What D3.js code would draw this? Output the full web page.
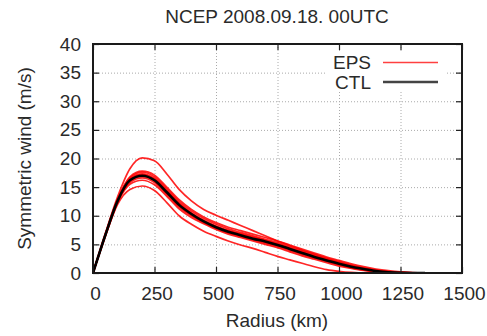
<!DOCTYPE html>
<html>
<head>
<meta charset="utf-8">
<script src="https://cdn.jsdelivr.net/npm/d3@7"></script>
<style>
  body { margin: 0; background: #fff; }
  text { font-family: "Liberation Sans", Arial, sans-serif; fill: #2a2a2a; }
</style>
</head>
<body>
<div id="chart"></div>
<script>
// radius (km) where each profile is sampled
const radius = [0, 50, 100, 150, 200, 250, 300, 350, 400, 450, 500, 550, 600, 650, 700,
  750, 800, 850, 900, 950, 1000, 1050, 1100, 1150, 1200, 1250, 1300, 1350];

// control run
const ctl = [0, 6.6, 12.6, 16.2, 17.0, 16.2, 14.1, 11.9, 10.3, 9.0, 8.0, 7.2, 6.6, 6.0, 5.5,
  4.9, 4.2, 3.5, 2.8, 2.2, 1.6, 1.1, 0.7, 0.35, 0.12, 0.02, 0, 0];

// ensemble members
const eps = [
  [0, 6.9, 13.3, 18.2, 20.1, 19.6, 17.3, 14.6, 12.6, 11.1, 10.1, 9.2, 8.3, 7.4, 6.5,
    5.6, 4.8, 4.0, 3.3, 2.6, 2.0, 1.4, 0.9, 0.5, 0.25, 0.1, 0.02, 0],
  [0, 6.4, 12.0, 14.6, 15.2, 14.4, 12.3, 10.0, 8.5, 7.3, 6.4, 5.6, 4.9, 4.3, 3.6,
    2.9, 2.3, 1.7, 1.1, 0.6, 0.3, 0.1, 0, 0, 0, 0, 0, 0],
  [0, 6.7, 12.8, 16.6, 17.6, 16.8, 14.7, 12.5, 10.8, 9.5, 8.5, 7.7, 7.1, 6.5, 5.9,
    5.3, 4.6, 3.9, 3.2, 2.5, 1.9, 1.3, 0.8, 0.45, 0.2, 0.08, 0.02, 0],
  [0, 6.5, 12.4, 15.8, 16.6, 15.8, 13.7, 11.5, 10.0, 8.8, 7.8, 7.0, 6.4, 5.8, 5.2,
    4.6, 3.9, 3.2, 2.6, 2.0, 1.4, 0.9, 0.5, 0.25, 0.08, 0, 0, 0],
  [0, 6.6, 12.7, 16.4, 17.3, 16.5, 14.4, 12.2, 10.5, 9.2, 8.2, 7.4, 6.8, 6.2, 5.7,
    5.1, 4.4, 3.7, 3.0, 2.4, 1.8, 1.2, 0.8, 0.45, 0.2, 0.06, 0, 0],
  [0, 6.5, 12.3, 15.5, 16.2, 15.4, 13.4, 11.2, 9.7, 8.6, 7.6, 6.8, 6.2, 5.6, 5.0,
    4.4, 3.7, 3.0, 2.4, 1.8, 1.2, 0.8, 0.45, 0.2, 0.05, 0, 0, 0],
  [0, 6.7, 12.9, 16.8, 17.8, 17.1, 15.0, 12.8, 11.1, 9.8, 8.8, 8.0, 7.4, 6.8, 6.2,
    5.6, 4.9, 4.2, 3.5, 2.8, 2.2, 1.6, 1.1, 0.7, 0.4, 0.18, 0.06, 0],
  [0, 6.6, 12.5, 16.0, 16.9, 16.1, 13.9, 11.7, 10.1, 8.9, 7.9, 7.1, 6.5, 5.9, 5.4,
    4.8, 4.1, 3.4, 2.7, 2.1, 1.5, 1.0, 0.6, 0.3, 0.1, 0.02, 0, 0],
  [0, 6.6, 12.6, 16.3, 17.2, 16.4, 14.3, 12.1, 10.4, 9.1, 8.1, 7.4, 6.9, 6.3, 5.7,
    5.0, 4.3, 3.6, 2.9, 2.3, 1.7, 1.2, 0.75, 0.4, 0.15, 0.05, 0, 0]
];

const xTicks = [0, 250, 500, 750, 1000, 1250, 1500];
const yTicks = [0, 5, 10, 15, 20, 25, 30, 35, 40];

const title = 'NCEP 2008.09.18. 00UTC';
const xLabel = 'Radius (km)';
const yLabel = 'Symmetric wind (m/s)';
const legendNames = ['EPS', 'CTL'];

const width = 487, height = 336;
const margin = {top: 44, right: 25, bottom: 63, left: 93};
const fontSize = 19;

const svg = d3.select('#chart')
  .append('svg')
  .attr('width', width)
  .attr('height', height);

const x = d3.scaleLinear()
  .domain([0, 1500])
  .range([margin.left, width - margin.right]);

const y = d3.scaleLinear()
  .domain([0, 40])
  .range([height - margin.bottom, margin.top]);

// dotted grid
svg.append('g')
  .attr('transform', `translate(0,${height - margin.bottom})`)
  .call(d3.axisBottom(x).tickValues(xTicks.slice(1, -1)).tickSize(-(y(0) - y(40))).tickFormat(''))
  .call(g => g.select('.domain').remove())
  .call(g => g.selectAll('line').attr('stroke', '#aaa').attr('stroke-dasharray', '1,2'));

svg.append('g')
  .attr('transform', `translate(${margin.left},0)`)
  .call(d3.axisLeft(y).tickValues(yTicks.slice(1, -1)).tickSize(-(x(1500) - x(0))).tickFormat(''))
  .call(g => g.select('.domain').remove())
  .call(g => g.selectAll('line').attr('stroke', '#aaa').attr('stroke-dasharray', '1,2'));

// legend box hides the grid behind it
svg.append('rect')
  .attr('x', 326).attr('y', 51)
  .attr('width', 121).attr('height', 40)
  .attr('fill', '#fff');

// curves
svg.append('clipPath').attr('id', 'plot-clip')
  .append('rect')
  .attr('x', x(0)).attr('y', y(40))
  .attr('width', x(1500) - x(0)).attr('height', y(0) - y(40));

const line = d3.line()
  .x((d, i) => x(radius[i]))
  .y(d => y(d))
  .curve(d3.curveMonotoneX);

const plot = svg.append('g').attr('clip-path', 'url(#plot-clip)');

plot.selectAll('.eps')
  .data(eps)
  .join('path')
  .attr('class', 'eps')
  .attr('fill', 'none')
  .attr('stroke', '#ff0000')
  .attr('stroke-opacity', 0.85)
  .attr('stroke-width', 1.7)
  .attr('stroke-linejoin', 'round')
  .attr('d', line);

plot.append('path')
  .datum(ctl)
  .attr('fill', 'none')
  .attr('stroke', '#000')
  .attr('stroke-width', 2.6)
  .attr('stroke-linejoin', 'round')
  .attr('d', line);

// axes with inward ticks, mirrored on top and right
const tickStyle = g => g.selectAll('line').attr('stroke', '#222').attr('stroke-width', 1.2);
const labelStyle = g => g.selectAll('text')
  .attr('font-size', fontSize)
  .attr('fill', '#2a2a2a')
  .style('font-family', '"Liberation Sans", Arial, sans-serif');

svg.append('g')
  .attr('transform', `translate(0,${height - margin.bottom})`)
  .call(d3.axisBottom(x).tickValues(xTicks).tickSize(-6).tickPadding(14).tickFormat(d3.format('d')))
  .call(g => g.select('.domain').remove())
  .call(tickStyle)
  .call(labelStyle)
  .call(g => g.selectAll('text').attr('dx', 2));

svg.append('g')
  .attr('transform', `translate(${margin.left},0)`)
  .call(d3.axisLeft(y).tickValues(yTicks).tickSize(-6).tickPadding(12).tickFormat(d3.format('d')))
  .call(g => g.select('.domain').remove())
  .call(tickStyle)
  .call(labelStyle);

svg.append('g')
  .attr('transform', `translate(0,${margin.top})`)
  .call(d3.axisTop(x).tickValues(xTicks).tickSize(-6).tickFormat(''))
  .call(g => g.select('.domain').remove())
  .call(tickStyle);

svg.append('g')
  .attr('transform', `translate(${width - margin.right},0)`)
  .call(d3.axisRight(y).tickValues(yTicks).tickSize(-6).tickFormat(''))
  .call(g => g.select('.domain').remove())
  .call(tickStyle);

// frame
svg.append('rect')
  .attr('x', x(0)).attr('y', y(40))
  .attr('width', x(1500) - x(0)).attr('height', y(0) - y(40))
  .attr('fill', 'none')
  .attr('stroke', '#1a1a1a')
  .attr('stroke-width', 2);

// legend
const legendColors = ['#ff4040', '#444'];
const legendWidths = [1.6, 2.6];
const legendY = [62.5, 82];
legendNames.forEach((name, i) => {
  svg.append('text')
    .attr('x', 371).attr('y', legendY[i])
    .attr('dy', '0.36em')
    .attr('text-anchor', 'end')
    .attr('font-size', fontSize)
    .text(name);
  svg.append('line')
    .attr('x1', 383).attr('x2', 438)
    .attr('y1', legendY[i]).attr('y2', legendY[i])
    .attr('stroke', legendColors[i])
    .attr('stroke-width', legendWidths[i]);
});

// titles
svg.append('text')
  .attr('x', 277).attr('y', 22.5)
  .attr('text-anchor', 'middle')
  .attr('font-size', fontSize)
  .text(title);

svg.append('text')
  .attr('x', 277).attr('y', 326.5)
  .attr('text-anchor', 'middle')
  .attr('font-size', fontSize)
  .text(xLabel);

svg.append('text')
  .attr('transform', `translate(31,${(y(0) + y(40)) / 2}) rotate(-90)`)
  .attr('text-anchor', 'middle')
  .attr('font-size', fontSize)
  .text(yLabel);
</script>
</body>
</html>
